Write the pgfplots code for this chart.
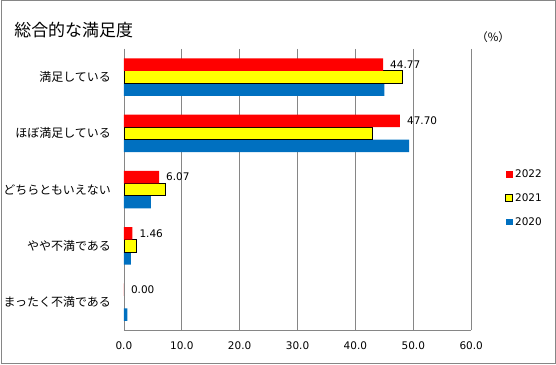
\documentclass[border=0pt]{standalone}
\usepackage{fontspec}
\setmainfont{Noto Sans CJK JP}
\newfontfamily\numfont{DejaVu Sans}
\usepackage{pgfplots}
\pgfplotsset{compat=1.18}
\definecolor{cRed}{RGB}{255,0,0}
\definecolor{cYel}{RGB}{255,255,0}
\definecolor{cBlu}{RGB}{0,112,192}
\definecolor{gridgray}{RGB}{134,134,134}
\begin{document}
\begin{tikzpicture}[x=1pt,y=1pt]
\path (0,0) rectangle (556,365);
\draw[gridgray, line width=1pt] (0.5,0.5) rectangle (555.5,364.5);
\node[anchor=west, inner sep=0pt, font=\fontsize{17}{20}\selectfont] at (13,335) {総合的な満足度};
\node[inner sep=0pt, font=\fontsize{11.5}{13}\selectfont] at (493,328) {（\%）};
\begin{axis}[
  at={(123pt,34pt)}, anchor=south west, scale only axis,
  width=348pt, height=282pt,
  xbar=0pt, bar width=12.5pt,
  xmin=0, xmax=60, xtick={0,10,...,60},
  ymin=-0.5, ymax=4.5, y dir=reverse,
  ytick={0,...,4},
  yticklabels={満足している,ほぼ満足している,どちらともいえない,やや不満である,まったく不満である},
  axis x line*=bottom, axis y line*=left,
  axis line style={gridgray, line width=0.75pt, -},
  xmajorgrids, grid style={gridgray, line width=0.75pt},
  major tick length=0pt,
  yticklabel style={font=\fontsize{12}{14}\selectfont, text=black, xshift=-9.5pt},
  xticklabel={\pgfmathprintnumber[fixed,fixed zerofill,precision=1,assume math mode=true]{\tick}},
  xticklabel style={font=\numfont\fontsize{10.5}{12}\selectfont, text=black, yshift=-8pt},
  legend image code/.code={\path[#1] (0pt,-3.5pt) rectangle (7pt,3.5pt);},
  legend style={at={(1.098,0.578)}, anchor=north west, draw=none, fill=none,
    font=\numfont\fontsize{10.5}{12}\selectfont, row sep=10.5pt, inner sep=0pt},
  legend cell align=left,
  reverse legend,
  clip=false,
]
\addplot[fill=cBlu, draw=none]
  coordinates {(45.0,0) (49.3,1) (4.65,2) (1.2,3) (0.6,4)};
\addplot[fill=cYel, draw=black, line width=0.75pt]
  coordinates {(48.05,0) (43.0,1) (7.1,2) (2.2,3)};
\addplot[fill=cRed, draw=none, point meta=x,
  nodes near coords={\pgfmathprintnumber[fixed,fixed zerofill,precision=2,assume math mode=true]{\pgfplotspointmeta}},
  nodes near coords style={anchor=west, inner sep=0pt, xshift=7pt, font=\numfont\fontsize{10.5}{12}\selectfont, text=black}]
  coordinates {(44.77,0) (47.70,1) (6.07,2) (1.46,3) (0.00,4)};
\legend{2020,2021,2022}
\end{axis}
\end{tikzpicture}
\end{document}
